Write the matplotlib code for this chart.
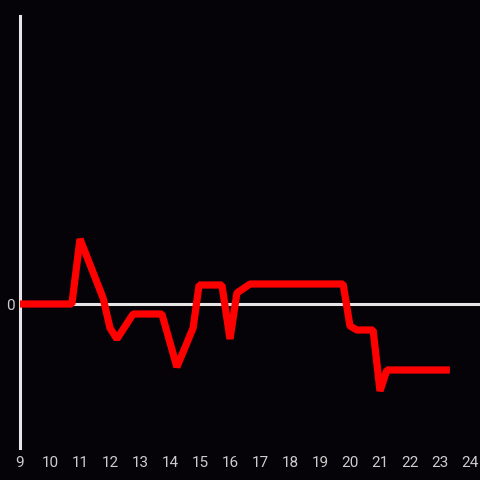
import matplotlib
matplotlib.use("Agg")
import matplotlib.pyplot as plt

x_vals = [9.0, 10.73, 11.0, 11.77, 12.0, 12.23, 12.77, 13.73, 14.23, 14.77, 14.97,
          15.73, 16.0, 16.23, 16.67, 19.77, 20.0, 20.23, 20.77, 21.0, 21.23, 23.33]
y_vals = [0, 0, 65, 6, -24, -35, -10, -10, -63, -24, 19,
          19, -35, 11, 20, 20, -22, -26, -26, -87, -66, -66]
x_ticks = list(range(9, 25))

bg = "#050308"
fig = plt.figure(figsize=(4.8, 4.8), dpi=100, facecolor=bg)
ax = fig.add_axes([20/480, 32/480, 460/480, 432/480], facecolor=bg)
ax.set_xlim(9, 9 + 460/30)
ax.set_ylim(-144, 288)

ax.axhline(0, color="#e6e6e6", lw=2.2, zorder=1)
ax.plot(x_vals, y_vals, color="#ff0000", lw=5.2, solid_joinstyle="bevel",
        solid_capstyle="butt", zorder=3, clip_on=False)

for s in ["top", "right", "bottom"]:
    ax.spines[s].set_visible(False)
ax.spines["left"].set_color("#e6e6e6")
ax.spines["left"].set_linewidth(2.2)

ax.set_xticks(x_ticks)
ax.set_xticklabels([str(t) for t in x_ticks])
ax.set_yticks([0])
ax.set_yticklabels(["0"])
ax.tick_params(axis="both", length=0, colors="#cccccc", labelsize=11)
ax.tick_params(axis="x", pad=6)
ax.tick_params(axis="y", pad=4)
for lab in ax.get_xticklabels() + ax.get_yticklabels():
    lab.set_fontfamily("Roboto")

fig.savefig("out.png", dpi=100, facecolor=bg)
